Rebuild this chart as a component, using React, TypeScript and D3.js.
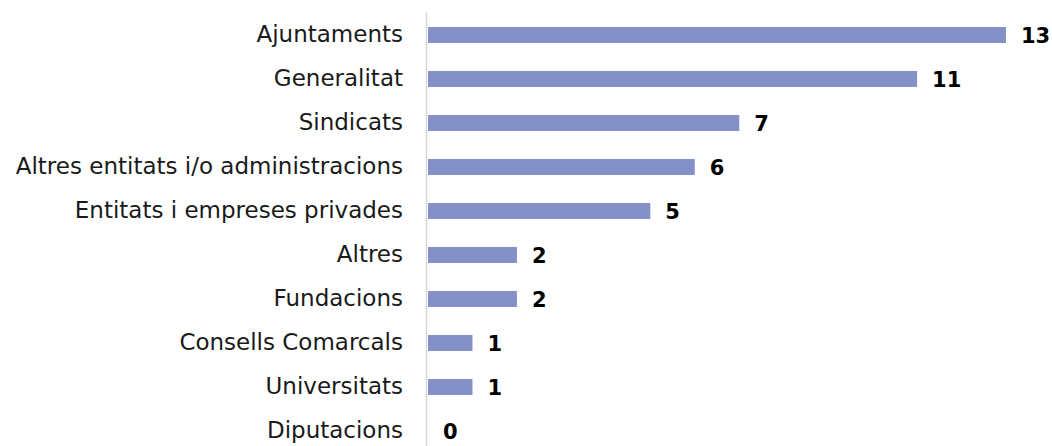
import React from "react";
import * as d3 from "d3";

const categories = [
  "Ajuntaments",
  "Generalitat",
  "Sindicats",
  "Altres entitats i/o administracions",
  "Entitats i empreses privades",
  "Altres",
  "Fundacions",
  "Consells Comarcals",
  "Universitats",
  "Diputacions",
];
const values = [13, 11, 7, 6, 5, 2, 2, 1, 1, 0];

const W = 1052;
const H = 446;

export default function App() {
  const x = d3.scaleLinear().domain([0, 13]).range([428, 1006]);
  const y = d3
    .scaleBand<string>()
    .domain(categories)
    .range([13, 453])
    .paddingInner(28 / 44)
    .paddingOuter(14 / 44);
  const bh = y.bandwidth();
  return (
    <svg
      width={W}
      height={H}
      style={{ position: "absolute", left: 0, top: 0, background: "#fff" }}
    >
      <line x1={426.5} x2={426.5} y1={12} y2={H} stroke="#d9d9d9" strokeWidth={1.6} />
      {categories.map((c, i) => {
        const yc = (y(c) as number) + bh / 2;
        return (
          <g key={c}>
            <text
              x={403}
              y={yc}
              dy="0.29em"
              textAnchor="end"
              fontFamily="'DejaVu Sans', sans-serif"
              fontSize={23}
              fill="#1a1a1a"
            >
              {c}
            </text>
            {values[i] > 0 && (
              <rect x={x(0)} y={y(c)} width={x(values[i]) - x(0)} height={bh} fill="#8490C8" />
            )}
            <text
              x={x(values[i]) + 15}
              y={yc}
              dy="0.39em"
              fontFamily="'DejaVu Sans', sans-serif"
              fontWeight="bold"
              fontSize={21}
              fill="#000"
            >
              {values[i]}
            </text>
          </g>
        );
      })}
    </svg>
  );
}
